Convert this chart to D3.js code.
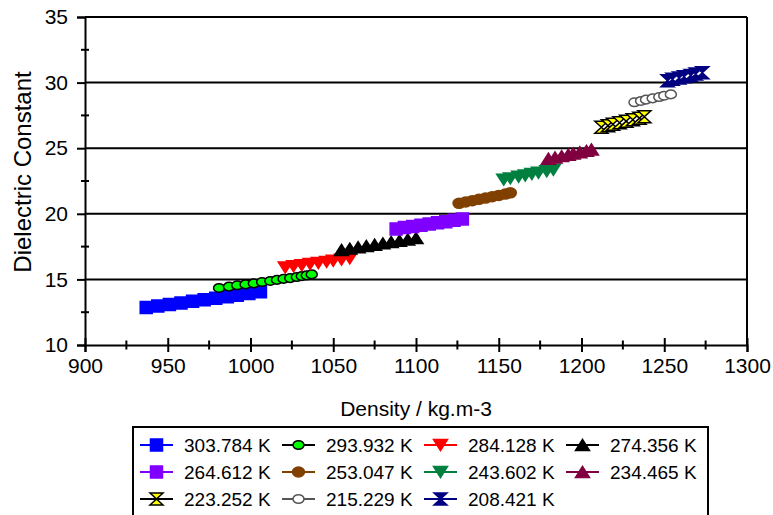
<!DOCTYPE html>
<html>
<head>
<meta charset="utf-8">
<script src="https://cdn.jsdelivr.net/npm/d3@7"></script>
<style>
  body { margin: 0; background: #fff; }
  svg { display: block; font-family: "Liberation Sans", Arial, sans-serif; }
</style>
</head>
<body>
<svg id="chart" width="773" height="515"></svg>
<script>
// axis ticks
const xTicks = [900, 950, 1000, 1050, 1100, 1150, 1200, 1250, 1300];
const xMinor = [925, 975, 1025, 1075, 1125, 1175, 1225, 1275];
const yTicks = [10, 15, 20, 25, 30, 35];
const yMinor = [12.5, 17.5, 22.5, 27.5, 32.5];

// series labels (temperature)
const temps = ['303.784 K', '293.932 K', '284.128 K', '274.356 K', '264.612 K', '253.047 K',
  '243.602 K', '234.465 K', '223.252 K', '215.229 K', '208.421 K'];

// density (kg.m-3) and dielectric constant
const rho303 = [937, 944, 951, 958, 965, 972, 979, 986, 992, 999, 1006];
const eps303 = [12.85, 12.97, 13.09, 13.2, 13.33, 13.45, 13.57, 13.68, 13.8, 13.93, 14.05];
const rho294 = [981, 987, 992, 997, 1002, 1007, 1012, 1016, 1020, 1024, 1028, 1031, 1034, 1037];
const eps294 = [14.35, 14.45, 14.55, 14.62, 14.7, 14.8, 14.88, 14.96, 15.04, 15.1, 15.18, 15.25, 15.31, 15.38];
const rho284 = [1021, 1026, 1031, 1036, 1041, 1046, 1050, 1055, 1060];
const eps284 = [15.9, 16.0, 16.08, 16.17, 16.25, 16.33, 16.42, 16.5, 16.6];
const rho274 = [1055, 1060, 1065, 1070, 1075, 1080, 1085, 1090, 1095, 1100];
const eps274 = [17.25, 17.35, 17.45, 17.55, 17.65, 17.75, 17.85, 17.95, 18.05, 18.15];
const rho265 = [1088, 1093, 1098, 1103, 1108, 1113, 1118, 1123, 1128];
const eps265 = [18.85, 18.95, 19.04, 19.13, 19.22, 19.31, 19.4, 19.5, 19.6];
const rho253 = [1126, 1130, 1134, 1138, 1142, 1146, 1150, 1154, 1157];
const eps253 = [20.8, 20.9, 21.0, 21.1, 21.2, 21.3, 21.4, 21.5, 21.6];
const rho244 = [1153, 1157, 1162, 1166, 1170, 1174, 1179, 1183];
const eps244 = [22.6, 22.7, 22.82, 22.92, 23.03, 23.13, 23.24, 23.35];
const rho234 = [1180, 1184, 1188, 1192, 1195, 1199, 1203, 1206];
const eps234 = [24.2, 24.3, 24.4, 24.5, 24.6, 24.7, 24.8, 24.9];
const rho223 = [1212, 1216, 1219, 1223, 1227, 1231, 1235, 1238];
const eps223 = [26.6, 26.72, 26.83, 26.94, 27.06, 27.17, 27.29, 27.4];
const rho215 = [1232, 1236, 1239, 1243, 1247, 1250, 1254];
const eps215 = [28.5, 28.6, 28.7, 28.8, 28.9, 29.0, 29.1];
const rho208 = [1252, 1255, 1259, 1262, 1266, 1269, 1273];
const eps208 = [30.15, 30.25, 30.35, 30.45, 30.55, 30.65, 30.75];

const svg = d3.select('#chart');
const margin = { top: 17, right: 26, bottom: 170, left: 85 };
const W = +svg.attr('width'), H = +svg.attr('height');
const innerW = W - margin.left - margin.right;
const innerH = H - margin.top - margin.bottom;

const x = d3.scaleLinear().domain([900, 1300]).range([0, innerW]);
const y = d3.scaleLinear().domain([10, 35]).range([innerH, 0]);

// marker shapes
function shape(type) {
  switch (type) {
    case 'square': return 'M-6,-6H6V6H-6Z';
    case 'circle': return 'M-5.5,0A5.5,4.3 0 1,0 5.5,0A5.5,4.3 0 1,0 -5.5,0Z';
    case 'bigcircle': return 'M-6,0A6,5 0 1,0 6,0A6,5 0 1,0 -6,0Z';
    case 'tridown': return 'M-7,-5.5H7L0,5.5Z';
    case 'triup': return 'M-7,5.5H7L0,-5.5Z';
    case 'hourglass': return 'M-6.5,-6H6.5L0,0L6.5,6H-6.5L0,0Z';
  }
}

const series = [
  { name: temps[0], xs: rho303, ys: eps303, shape: 'square', fill: '#0000ff', stroke: '#0000ff', line: '#0000ff' },
  { name: temps[1], xs: rho294, ys: eps294, shape: 'circle', fill: '#00ff00', stroke: '#000', line: '#000' },
  { name: temps[2], xs: rho284, ys: eps284, shape: 'tridown', fill: '#ff0000', stroke: '#ff0000', line: '#ff0000' },
  { name: temps[3], xs: rho274, ys: eps274, shape: 'triup', fill: '#000', stroke: '#000', line: '#000' },
  { name: temps[4], xs: rho265, ys: eps265, shape: 'square', fill: '#8000ff', stroke: '#8000ff', line: '#8000ff' },
  { name: temps[5], xs: rho253, ys: eps253, shape: 'bigcircle', fill: '#804000', stroke: '#804000', line: '#804000' },
  { name: temps[6], xs: rho244, ys: eps244, shape: 'tridown', fill: '#008040', stroke: '#008040', line: '#008040' },
  { name: temps[7], xs: rho234, ys: eps234, shape: 'triup', fill: '#800040', stroke: '#800040', line: '#800040' },
  { name: temps[8], xs: rho223, ys: eps223, shape: 'hourglass', fill: '#ffff00', stroke: '#000', line: '#000' },
  { name: temps[9], xs: rho215, ys: eps215, shape: 'circle', fill: '#fff', stroke: '#555', line: '#555' },
  { name: temps[10], xs: rho208, ys: eps208, shape: 'hourglass', fill: '#000080', stroke: '#000080', line: '#000080' }
];

const g = svg.append('g').attr('transform', `translate(${margin.left},${margin.top})`);

// horizontal grid lines
g.selectAll('.grid').data(yTicks.slice(1)).join('line')
  .attr('x1', 0).attr('x2', innerW)
  .attr('y1', d => y(d)).attr('y2', d => y(d))
  .attr('stroke', '#000').attr('stroke-width', 2);

// right border
g.append('line').attr('x1', innerW).attr('x2', innerW).attr('y1', 0).attr('y2', innerH)
  .attr('stroke', '#000').attr('stroke-width', 2);

// x axis
const xAxis = g.append('g').attr('transform', `translate(0,${innerH})`)
  .call(d3.axisBottom(x).tickValues(xTicks).tickSize(7).tickPadding(6).tickFormat(d3.format('d')));
xAxis.selectAll('.tick line').attr('y1', -7).attr('stroke-width', 2);
xAxis.select('.domain').attr('stroke-width', 2);
xAxis.selectAll('text').attr('font-size', 21).attr('fill', '#000')
  .attr('font-family', '"Liberation Sans", Arial, sans-serif');
g.append('g').selectAll('line').data(xMinor).join('line')
  .attr('x1', d => x(d)).attr('x2', d => x(d))
  .attr('y1', innerH - 4.5).attr('y2', innerH + 4.5)
  .attr('stroke', '#000').attr('stroke-width', 2);

// y axis
const yAxis = g.append('g')
  .call(d3.axisLeft(y).tickValues(yTicks).tickSize(8).tickPadding(9));
yAxis.selectAll('.tick line').attr('stroke-width', 2);
yAxis.select('.domain').attr('stroke-width', 2);
yAxis.selectAll('text').attr('font-size', 21).attr('fill', '#000')
  .attr('font-family', '"Liberation Sans", Arial, sans-serif');
g.append('g').selectAll('line').data(yMinor).join('line')
  .attr('x1', -4).attr('x2', 4)
  .attr('y1', d => y(d)).attr('y2', d => y(d))
  .attr('stroke', '#000').attr('stroke-width', 2);

// axis titles
svg.append('text')
  .attr('x', margin.left + innerW / 2).attr('y', 416)
  .attr('text-anchor', 'middle').attr('font-size', 21)
  .text('Density / kg.m-3');
svg.append('text')
  .attr('transform', `translate(31,172) rotate(-90)`)
  .attr('text-anchor', 'middle').attr('font-size', 24)
  .text('Dielectric Constant');

// markers
series.forEach(s => {
  g.append('g').selectAll('path')
    .data(s.xs.map((v, i) => [v, s.ys[i]]))
    .join('path')
    .attr('d', shape(s.shape))
    .attr('transform', d => `translate(${x(d[0])},${y(d[1])})`)
    .attr('fill', s.fill)
    .attr('stroke', s.stroke)
    .attr('stroke-width', 1.5);
});

// legend
const legend = svg.append('g');
legend.append('rect')
  .attr('x', 133).attr('y', 427).attr('width', 575).attr('height', 110)
  .attr('fill', '#fff').attr('stroke', '#000').attr('stroke-width', 2);
series.forEach((s, i) => {
  const col = i % 4, row = Math.floor(i / 4);
  const lx = 140 + col * 142, ly = 445 + row * 27;
  const item = legend.append('g').attr('transform', `translate(${lx},${ly})`);
  item.append('line').attr('x1', 0).attr('x2', 33).attr('y1', 0).attr('y2', 0)
    .attr('stroke', s.line).attr('stroke-width', 2);
  item.append('path').attr('d', shape(s.shape))
    .attr('transform', 'translate(16.5,0)')
    .attr('fill', s.fill).attr('stroke', s.stroke).attr('stroke-width', 1.5);
  item.append('text').attr('x', 44).attr('y', 7).attr('font-size', 19).text(s.name);
});
</script>
</body>
</html>
